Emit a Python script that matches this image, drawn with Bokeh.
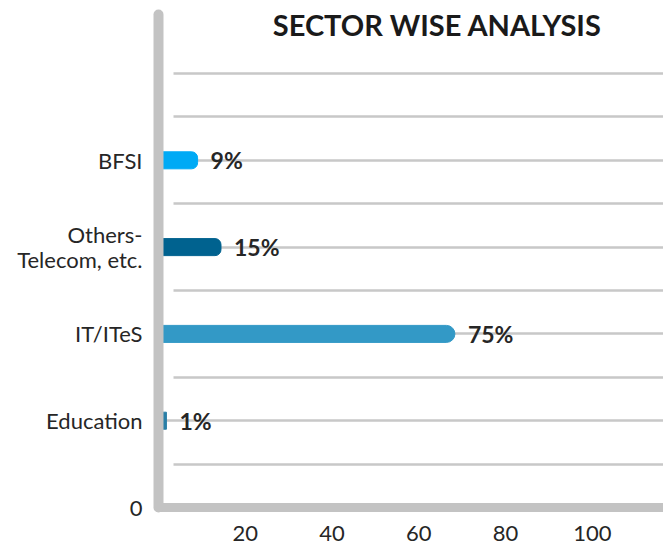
from bokeh.plotting import figure
from bokeh.models import (ColumnDataSource, Range1d, LinearAxis, FixedTicker, Grid,
                          Label, CDSView, IndexFilter)
from bokeh.core.properties import value
from bokeh.embed import file_html
from bokeh.resources import INLINE

# ---- data ----
categories = ["Education", "IT/ITeS", "Others-\nTelecom, etc.", "BFSI"]
positions = [1, 2, 3, 4]
shares = [1, 75, 15, 9]
colors = ["#2A7FA6", "#3399C6", "#00628F", "#00AAF5"]
x_ticks = [20, 40, 60, 80, 100]
title_text = "SECTOR WISE ANALYSIS"

FONT = "Lato"
TXT = "#262626"
AXIS_GRAY = "#C3C3C3"
GRID_GRAY = "#C8C8C8"

src = ColumnDataSource(dict(
    y=positions, share=shares, color=colors,
    label=[f"{s}%" for s in shares],
))

p = figure(width=663, height=545, output_backend="svg", toolbar_location=None,
           x_range=Range1d(-1.03, 128.5), y_range=Range1d(0, 5.68),
           x_axis_location=None, min_border_left=158, min_border_right=0,
           min_border_top=14, min_border_bottom=38)
p.outline_line_color = None
p.background_fill_color = "white"
p.xgrid.visible = False

# twin range for the printed value axis
p.extra_x_ranges = {"ticks": Range1d(0, 116.4)}
xa = LinearAxis(x_range_name="ticks", ticker=FixedTicker(ticks=x_ticks))
xa.axis_line_color = AXIS_GRAY
xa.axis_line_width = 9
xa.axis_line_cap = "round"
xa.major_tick_line_color = None
xa.minor_tick_line_color = None
xa.major_label_standoff = 12
xa.major_label_text_font = FONT
xa.major_label_text_font_size = "22px"
xa.major_label_text_color = TXT
p.add_layout(xa, "below")

ya = p.yaxis[0]
ya.ticker = FixedTicker(ticks=[0] + positions)
ya.major_label_overrides = {0: "0", **{pos: c for pos, c in zip(positions, categories)}}
ya.axis_line_color = AXIS_GRAY
ya.axis_line_width = 10
ya.axis_line_cap = "round"
ya.major_tick_line_color = None
ya.minor_tick_line_color = None
ya.major_label_standoff = 10
ya.major_label_text_font = FONT
ya.major_label_text_font_size = "22px"
ya.major_label_text_color = TXT
ya.major_label_text_line_height = 0.95

# grid lines
p.ygrid.ticker = FixedTicker(ticks=positions)
p.ygrid.grid_line_color = GRID_GRAY
p.ygrid.grid_line_width = 2.5
half = Grid(dimension=1, ticker=FixedTicker(ticks=[0.5, 1.5, 2.5, 3.5, 4.5, 5.0]),
            grid_line_color=GRID_GRAY, grid_line_width=2.5)
if "cross_bounds" in Grid.properties():
    half.cross_bounds = (2.8, 200)
p.add_layout(half, "center")

# bars
edu = CDSView(filter=IndexFilter([0]))
it = CDSView(filter=IndexFilter([1]))
rest = CDSView(filter=IndexFilter([2, 3]))
p.hbar(y="y", left=0, right="share", height=0.196, color="color", source=src, view=edu)
p.hbar(y="y", left=0, right="share", height=0.196, color="color", source=src,
       view=it, border_radius=(0, 9, 9, 0))
p.hbar(y="y", left=0, right="share", height=0.196, color="color", source=src,
       view=rest, border_radius=(0, 6, 6, 0))

p.text(x="share", y="y", text="label", source=src, x_offset=13,
       text_align="left", text_baseline="middle", text_font=value(FONT),
       text_font_style="bold", text_font_size="23px", text_color=TXT)

p.add_layout(Label(x=70.5, y=5.56, text=title_text, text_align="center",
                   text_baseline="alphabetic", text_font=FONT,
                   text_font_style="bold", text_font_size="29px",
                   text_color="#1A1A1A"))

open("out.html", "w").write(file_html(p, INLINE))
